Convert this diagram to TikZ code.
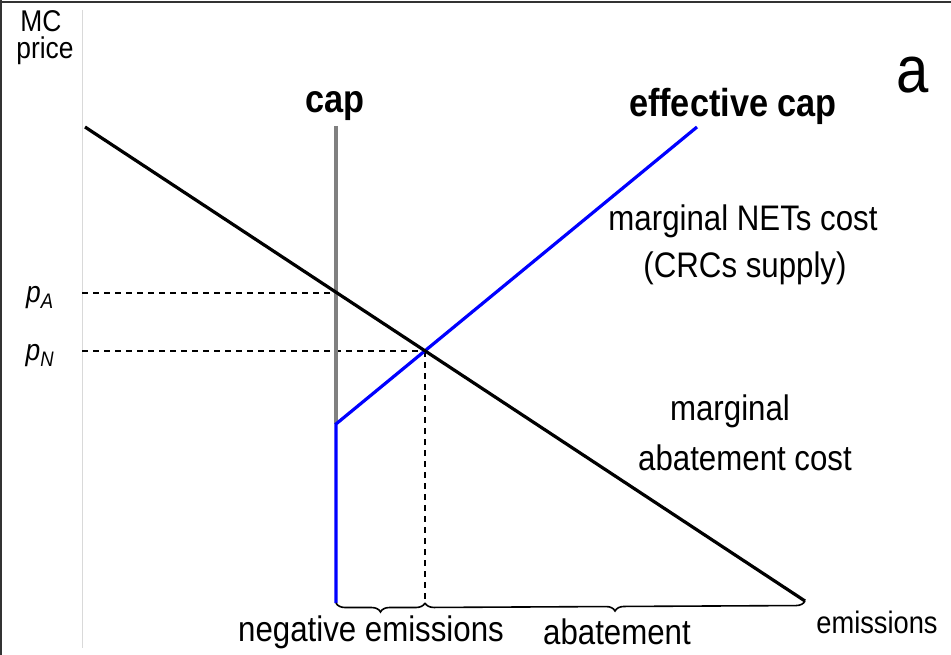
\documentclass[tikz,border=0pt]{standalone}
\usepackage{fontspec}
\setmainfont{Liberation Sans}[FakeStretch=0.88]
\usetikzlibrary{decorations.pathreplacing}
\tikzset{
	lbl/.style={inner sep=0pt,font=\fontsize{35.5}{39}\selectfont},
	boldlbl/.style={inner sep=0pt,font=\fontsize{39}{43}\selectfont\bfseries},
	dashline/.style={dashed,line width=1.8pt,dash pattern=on 6pt off 5pt},
	brc/.style={decorate,decoration={brace,mirror,amplitude=9pt},line width=1.6pt}
}
\begin{document}
\begin{tikzpicture}[x=1pt,y=-1pt]
		\useasboundingbox (0,0) rectangle (951,655);
		\draw[line width=2.5pt,black!80] (0,2) -- (951,2);
		\draw[line width=2.5pt,black!80] (1,0) -- (1,655);
		
		\coordinate (ax1) at (82,10);
		\coordinate (ax2) at (82,648);
		\coordinate (pa) at (82,293);
		\coordinate (pn) at (82,351);
		\coordinate (m1) at (85,127);
		\coordinate (m2) at (805,601);
		\coordinate (c1) at (336,126);
		\coordinate (c2) at (336,424);
		\coordinate (b0) at (336,603);
		\coordinate (e1) at (697,127);
		\coordinate (x) at (425,351);
		\coordinate (x0) at (425,603);
		\coordinate (ca) at (336,293);
		
		\draw[line width=1pt,black!15] (ax1) -- (ax2);
		\draw[dashline] (pa) -- (ca);
		\draw[dashline] (pn) -- (x);
		\draw[dashline] (x) -- (x0);
		\draw[line width=3.5pt,black!50] (c1) -- (c2);
		\draw[line width=3.2pt,blue] (b0) -- (c2) -- (e1);
		\draw[line width=3.2pt] (m1) -- (m2);
		\draw[brc] (b0) -- (x0);
		\draw[brc] (x0) -- (m2);
		
		\node[lbl,font=\fontsize{30}{34}\selectfont] (mc) at (41,21) {MC};
		\node[lbl,font=\fontsize{30}{34}\selectfont] (pr) at (45,51) {price};
		\node[lbl,font=\fontsize{30}{34}\selectfont\itshape] (lpa) at (40,298) {p\textsubscript{A}};
		\node[lbl,font=\fontsize{30}{34}\selectfont\itshape] (lpn) at (40,356) {p\textsubscript{N}};
		\node[boldlbl] (lcap) at (335,106) {cap};
		\node[boldlbl] (leff) at (733,106) {effective cap};
		\node[lbl,font=\fontsize{66}{70}\selectfont] (la) at (913,75) {a};
		\node[lbl] (lnet1) at (743,221) {marginal NETs cost};
		\node[lbl] (lnet2) at (745,268) {(CRCs supply)};
		\node[lbl] (lmac1) at (730,411) {marginal};
		\node[lbl] (lmac2) at (745,458) {abatement cost};
		\node[lbl,font=\fontsize{31}{35}\selectfont] (lem) at (877,622) {emissions};
		\node[lbl] (lneg) at (371,632) {negative emissions};
		\node[lbl] (lab) at (617,632) {abatement};
\end{tikzpicture}
\end{document}
